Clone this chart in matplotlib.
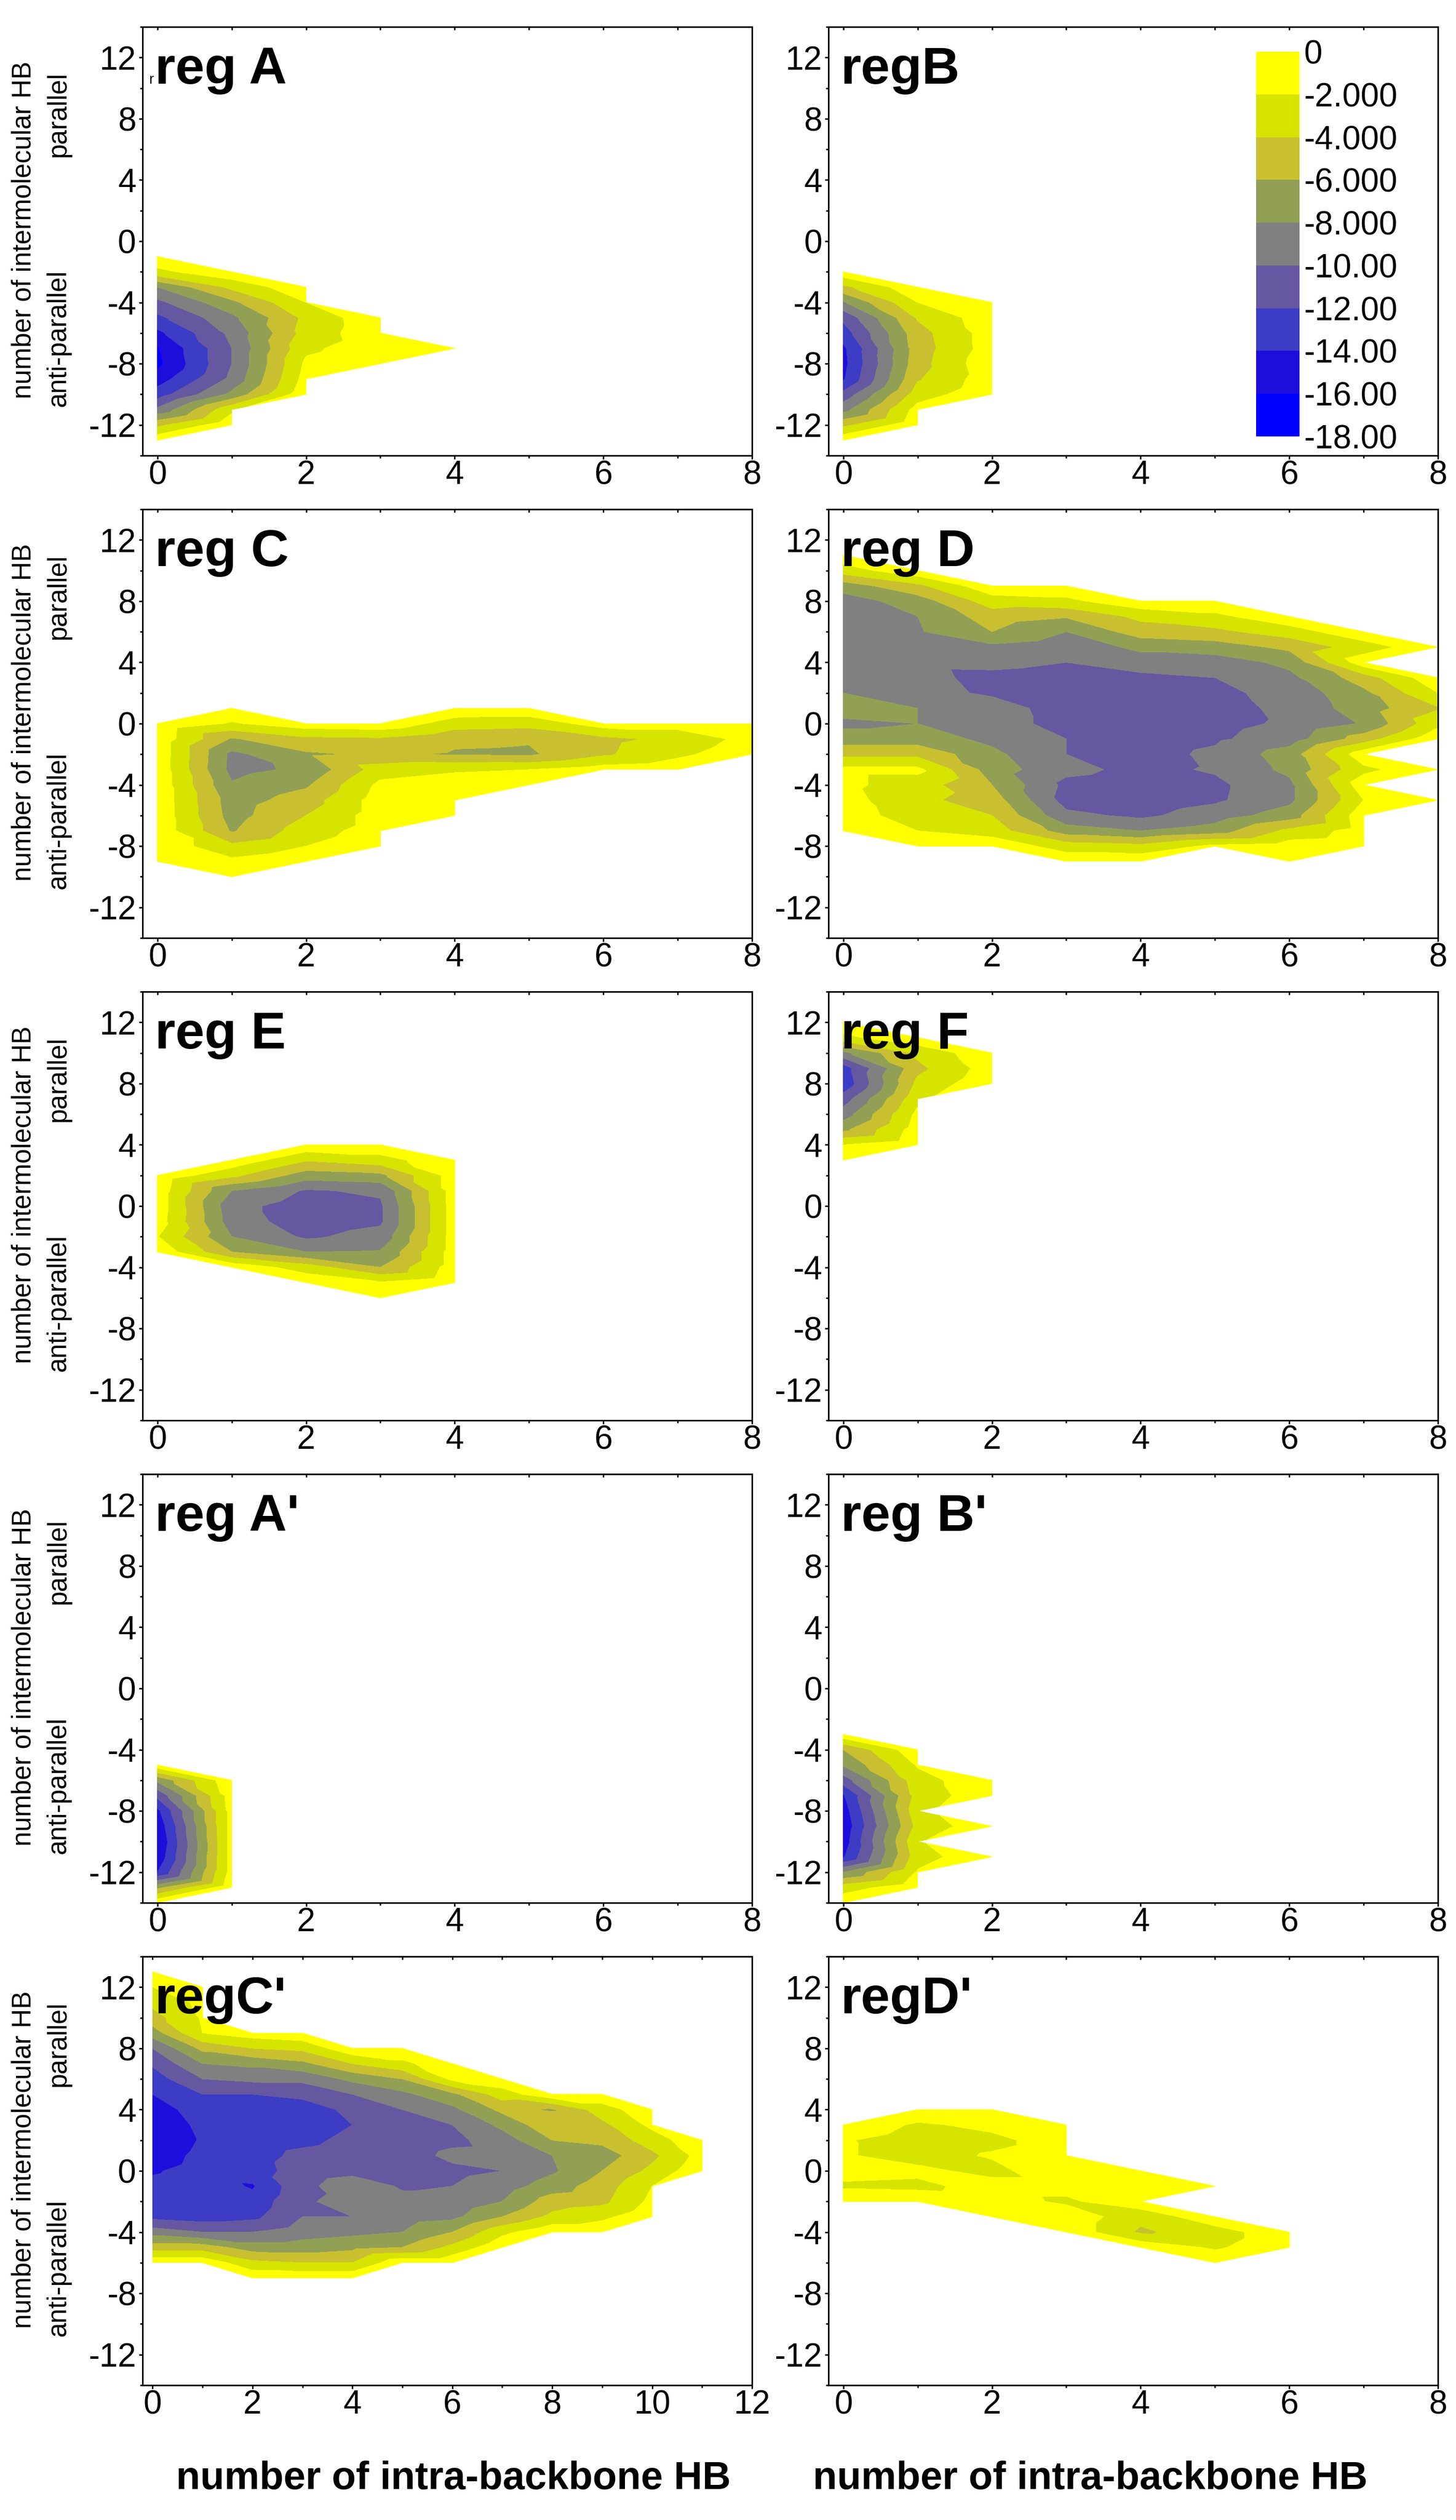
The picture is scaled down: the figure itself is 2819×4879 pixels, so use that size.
import numpy as np
import matplotlib.pyplot as plt
import matplotlib.tri as mtri
from matplotlib.colors import ListedColormap, BoundaryNorm
from matplotlib.cm import ScalarMappable
from matplotlib.ticker import MultipleLocator

plt.rcParams["font.family"] = ["Liberation Sans", "DejaVu Sans"]
plt.rcParams["axes.unicode_minus"] = False

nan = np.nan

# contour levels / colours (free energy)
LEVELS = [-18, -16, -14, -12, -10, -8, -6, -4, -2, 0]
LEVEL_LABELS = ["-18.00", "-16.00", "-14.00", "-12.00", "-10.00",
                "-8.000", "-6.000", "-4.000", "-2.000", "0"]
BAND_COLORS = ["#0000ff", "#1e0edc", "#3c3cc4", "#6658a0", "#808080",
               "#92a055", "#c8c030", "#d6e400", "#ffff00"]

# grids: rows from top (y = *_YTOP) downwards, columns x = 0, 1, 2, ...
REG_A_YTOP = -1
REG_A = [
    [-0.5, nan, nan, nan, nan],
    [-2.5, -0.5, nan, nan, nan],
    [-8.0, -3.5, -0.5, nan, nan],
    [-10.5, -6.5, -2.0, nan, nan],
    [-12.5, -8.5, -3.5, -0.5, nan],
    [-14.5, -9.5, -3.2, -0.6, nan],
    [-16.2, -10.0, -2.4, -0.8, -0.3],
    [-16.5, -10.0, -1.6, -0.5, nan],
    [-15.0, -9.5, -1.2, nan, nan],
    [-13.0, -7.5, -0.5, nan, nan],
    [-9.5, -2.5, nan, nan, nan],
    [-4.5, -0.5, nan, nan, nan],
    [-0.5, nan, nan, nan, nan],
]

REG_B_YTOP = -2
REG_B = [
    [-0.5, nan, nan],
    [-4.5, -0.5, nan],
    [-8.2, -2.0, -0.5],
    [-11.5, -3.8, -0.8],
    [-13.0, -4.8, -1.0],
    [-14.4, -5.0, -1.0],
    [-14.6, -4.8, -0.5],
    [-14.2, -4.2, -0.8],
    [-11.3, -3.0, -0.5],
    [-8.7, -1.2, nan],
    [-4.5, -0.5, nan],
    [-0.5, nan, nan],
]

REG_C_YTOP = 1
REG_C = [
    [nan, -0.5, nan, nan, -0.5, -0.5, nan, nan, nan],
    [-0.5, -2.2, -0.8, -0.5, -3.0, -3.3, -1.0, -1.0, -0.5],
    [-0.6, -6.2, -4.5, -4.3, -5.6, -5.8, -4.5, -3.5, -1.2],
    [-0.6, -8.5, -6.3, -5.7, -6.2, -6.3, -4.3, -2.5, -0.5],
    [-0.6, -8.6, -7.6, -3.0, -2.3, -2.0, -1.0, -0.5, nan],
    [-0.6, -7.8, -6.3, -1.5, -0.8, -0.5, nan, nan, nan],
    [-0.6, -7.0, -5.0, -1.0, -0.7, nan, nan, nan, nan],
    [-0.6, -6.8, -4.0, -1.0, -0.5, nan, nan, nan, nan],
    [-0.6, -6.2, -3.0, -1.0, nan, nan, nan, nan, nan],
    [-0.6, -3.5, -2.0, -0.5, nan, nan, nan, nan, nan],
    [-0.5, -1.5, -0.5, nan, nan, nan, nan, nan, nan],
    [nan, -0.5, nan, nan, nan, nan, nan, nan, nan],
]

REG_D_YTOP = 11
REG_D = [
    [-0.5, nan, nan, nan, nan, nan, nan, nan, nan],
    [-3.0, -0.5, nan, nan, nan, nan, nan, nan, nan],
    [-7.0, -4.5, -0.5, -0.5, nan, nan, nan, nan, nan],
    [-9.0, -7.0, -3.0, -2.5, -0.5, -0.5, nan, nan, nan],
    [-9.5, -8.0, -5.0, -5.8, -3.5, -2.5, -0.5, nan, nan],
    [-9.5, -8.2, -6.0, -8.0, -5.0, -4.5, -3.0, -0.5, nan],
    [-9.5, -9.5, -8.5, -9.3, -7.5, -7.0, -5.5, -3.0, -0.5],
    [-9.5, -9.6, -9.5, -10.0, -9.0, -9.0, -7.5, -0.8, nan],
    [-9.3, -9.5, -10.5, -10.8, -10.5, -10.0, -8.5, -5.0, -0.5],
    [-8.0, -9.3, -10.3, -11.0, -11.0, -10.5, -9.3, -6.5, -2.0],
    [-7.0, -8.0, -9.0, -11.0, -11.2, -10.8, -9.5, -7.0, -4.2],
    [-8.5, -8.0, -9.0, -10.8, -11.2, -10.6, -9.7, -7.8, -2.5],
    [-7.0, -7.0, -8.5, -10.0, -11.0, -10.3, -9.0, -5.0, -0.5],
    [-4.5, -4.5, -7.5, -10.0, -10.8, -9.6, -7.0, -0.8, nan],
    [-1.5, -1.5, -7.0, -9.5, -10.5, -9.8, -7.5, -2.5, -0.5],
    [-1.5, -3.0, -6.0, -10.5, -11.0, -10.4, -8.5, -0.8, nan],
    [-1.2, -3.5, -5.0, -10.8, -11.2, -10.3, -8.5, -2.0, -0.5],
    [-1.0, -3.0, -4.0, -9.5, -10.4, -9.0, -7.0, -0.8, nan],
    [-0.5, -2.0, -3.0, -7.0, -8.0, -7.0, -3.5, -1.0, nan],
    [nan, -0.5, -0.5, -3.0, -3.5, -1.5, -1.0, -0.5, nan],
    [nan, nan, nan, -0.5, -0.5, nan, -0.5, nan, nan],
]

REG_E_YTOP = 4
REG_E = [
    [nan, nan, -0.5, -0.5, nan],
    [nan, -0.5, -3.8, -2.8, -0.5],
    [-0.5, -3.5, -7.0, -6.5, -1.0],
    [-0.8, -8.0, -10.2, -9.7, -1.0],
    [-0.8, -9.3, -11.0, -10.3, -1.0],
    [-1.0, -9.0, -11.0, -10.3, -1.0],
    [-1.9, -8.0, -10.3, -9.3, -1.0],
    [-0.5, -6.0, -8.0, -7.8, -1.0],
    [nan, -0.5, -3.0, -6.0, -1.0],
    [nan, nan, -0.5, -1.8, -0.5],
    [nan, nan, nan, -0.5, nan],
]

REG_F_YTOP = 12
REG_F = [
    [-0.5, nan, nan],
    [-2.5, -0.5, nan],
    [-8.5, -3.5, -0.5],
    [-13.0, -4.5, -1.0],
    [-13.5, -3.5, -0.5],
    [-11.0, -2.5, nan],
    [-9.0, -1.5, nan],
    [-6.5, -1.0, nan],
    [-2.0, -0.5, nan],
    [-0.5, nan, nan],
]

REG_A2_YTOP = -5
REG_A2 = [
    [-0.5, nan],
    [-7.5, -0.5],
    [-11.5, -1.0],
    [-14.5, -1.2],
    [-15.5, -1.2],
    [-16.0, -1.2],
    [-15.5, -1.2],
    [-14.0, -1.2],
    [-6.5, -0.5],
    [-0.5, nan],
]

REG_B2_YTOP = -3
REG_B2 = [
    [-0.5, nan, nan],
    [-6.0, -0.5, nan],
    [-7.8, -1.8, nan],
    [-11.0, -2.8, -0.5],
    [-14.2, -3.2, -0.6],
    [-15.0, -2.6, nan],
    [-15.5, -3.3, -0.6],
    [-15.0, -2.2, nan],
    [-14.2, -2.8, -0.5],
    [-8.0, -1.8, nan],
    [-3.0, -0.5, nan],
    [-0.5, nan, nan],
]

REG_C2_YTOP = 13
REG_C2 = [
    [-0.5, nan, nan, nan, nan, nan, nan, nan, nan, nan, nan, nan],
    [-2.0, -0.5, nan, nan, nan, nan, nan, nan, nan, nan, nan, nan],
    [-3.5, -1.5, nan, nan, nan, nan, nan, nan, nan, nan, nan, nan],
    [-4.8, -1.8, nan, nan, nan, nan, nan, nan, nan, nan, nan, nan],
    [-7.0, -2.0, -1.0, -0.5, nan, nan, nan, nan, nan, nan, nan, nan],
    [-10.0, -5.5, -4.0, -3.5, -0.5, -0.5, nan, nan, nan, nan, nan, nan],
    [-11.7, -8.0, -7.5, -6.5, -4.0, -2.5, -0.5, nan, nan, nan, nan, nan],
    [-13.0, -10.0, -9.5, -9.5, -7.5, -6.0, -1.5, -0.5, nan, nan, nan, nan],
    [-14.0, -12.0, -12.0, -11.5, -10.0, -8.5, -6.5, -3.0, -0.5, -0.5, nan, nan],
    [-15.0, -13.0, -13.0, -13.0, -11.5, -10.0, -8.5, -5.5, -6.2, -3.0, -0.5, nan],
    [-15.5, -13.5, -13.0, -13.0, -12.0, -11.0, -10.0, -7.5, -4.5, -4.5, -1.5, nan],
    [-15.5, -13.8, -13.0, -12.5, -11.5, -11.3, -10.5, -9.0, -6.0, -5.5, -3.0, -0.5],
    [-15.0, -13.5, -12.8, -11.5, -11.0, -11.0, -9.5, -9.3, -8.0, -7.0, -4.5, -1.2],
    [-14.2, -13.3, -13.0, -11.0, -10.5, -10.8, -10.5, -10.0, -8.3, -6.0, -3.5, -0.5],
    [-13.5, -13.0, -14.2, -10.5, -9.0, -10.2, -10.0, -9.0, -7.0, -5.0, -2.0, nan],
    [-13.0, -13.0, -13.3, -10.2, -9.5, -9.5, -9.5, -8.0, -5.0, -4.5, -1.5, nan],
    [-12.5, -13.0, -12.5, -10.0, -10.0, -9.0, -8.5, -6.0, -3.5, -2.5, -0.5, nan],
    [-9.0, -10.0, -10.0, -9.0, -8.5, -8.0, -6.0, -2.5, -0.5, -0.5, nan, nan],
    [-5.0, -5.0, -7.0, -7.0, -6.5, -6.0, -3.5, -0.5, nan, nan, nan, nan],
    [-0.5, -0.5, -3.5, -4.0, -4.0, -0.5, -0.5, nan, nan, nan, nan, nan],
    [nan, nan, -0.5, -0.5, -0.5, nan, nan, nan, nan, nan, nan, nan],
]

REG_D2_YTOP = 4
REG_D2 = [
    [nan, -0.5, -0.5, nan, nan, nan, nan],
    [-0.5, -2.3, -1.5, -0.5, nan, nan, nan],
    [-1.8, -3.0, -2.5, -1.0, nan, nan, nan],
    [-1.8, -2.8, -1.8, -1.0, nan, nan, nan],
    [-1.3, -1.5, -2.6, -0.5, -0.5, nan, nan],
    [-2.3, -2.5, -1.2, -1.2, -1.0, -0.5, nan],
    [-0.5, -0.5, -1.0, -2.4, -0.5, nan, nan],
    [nan, nan, -0.5, -0.5, -3.5, -0.5, nan],
    [nan, nan, nan, -0.5, -4.3, -3.0, -0.5],
    [nan, nan, nan, nan, -0.5, -2.3, -0.5],
    [nan, nan, nan, nan, nan, -0.5, nan],
]

PANELS = [
    ("reg A", REG_A, REG_A_YTOP, 8),
    ("regB", REG_B, REG_B_YTOP, 8),
    ("reg C", REG_C, REG_C_YTOP, 8),
    ("reg D", REG_D, REG_D_YTOP, 8),
    ("reg E", REG_E, REG_E_YTOP, 8),
    ("reg F", REG_F, REG_F_YTOP, 8),
    ("reg A'", REG_A2, REG_A2_YTOP, 8),
    ("reg B'", REG_B2, REG_B2_YTOP, 8),
    ("regC'", REG_C2, REG_C2_YTOP, 12),
    ("regD'", REG_D2, REG_D2_YTOP, 8),
]


def grid_triangulation(rows, y_top):
    z = np.array(rows, dtype=float)
    ny, nx = z.shape
    idx = -np.ones(z.shape, dtype=int)
    xs, ys, zs = [], [], []
    for r in range(ny):
        for c in range(nx):
            if np.isfinite(z[r, c]):
                idx[r, c] = len(xs)
                xs.append(c)
                ys.append(y_top - r)
                zs.append(z[r, c])
    tris = []
    for r in range(ny - 1):
        for c in range(nx - 1):
            tl, tr, bl, br = idx[r, c], idx[r, c + 1], idx[r + 1, c], idx[r + 1, c + 1]
            ok = [k for k in (tl, tr, br, bl) if k >= 0]
            if len(ok) == 4:
                tris.append([tl, tr, br])
                tris.append([tl, br, bl])
            elif len(ok) == 3:
                tris.append(ok)
    return mtri.Triangulation(xs, ys, tris), np.array(zs)


W, H = 2819, 4879
COL_LEFT = [276, 1604]
ROW_TOP = [52, 986, 1920, 2854, 3788]
AX_W, AX_H = 1180, 830

cmap = ListedColormap(BAND_COLORS)
norm = BoundaryNorm(LEVELS, cmap.N)

fig = plt.figure(figsize=(W / 100, H / 100), dpi=100)

for i, (title, grid, ytop, xmax) in enumerate(PANELS):
    row, col = divmod(i, 2)
    ax = fig.add_axes([COL_LEFT[col] / W, 1 - (ROW_TOP[row] + AX_H) / H, AX_W / W, AX_H / H])
    tri, z = grid_triangulation(grid, ytop)
    ax.tricontourf(tri, z, levels=LEVELS, cmap=cmap, norm=norm, antialiased=False)

    ax.set_xlim(-0.2, xmax)
    ax.set_ylim(-14, 14)
    ax.set_xticks(np.arange(0, xmax + 1, 2))
    ax.xaxis.set_minor_locator(MultipleLocator(1))
    ax.set_yticks(np.arange(-12, 13, 4))
    ax.yaxis.set_minor_locator(MultipleLocator(2))
    ax.tick_params(which="both", direction="out", width=2, labelsize=46,
                   top=False, right=False)
    ax.tick_params(which="major", length=5)
    ax.tick_params(which="minor", length=3.5)
    ax.tick_params(axis="x", pad=1)
    ax.tick_params(axis="y", pad=4)
    for sp in ax.spines.values():
        sp.set_linewidth(2.2)

    top = ax.secondary_xaxis("top")
    top.set_xticks(np.arange(0, xmax + 1, 1))
    top.tick_params(direction="in", length=4, width=2, labeltop=False, labelbottom=False)
    top.spines["top"].set_linewidth(2.2)

    ax.text(0.02, 0.867, title, transform=ax.transAxes, fontsize=73,
            fontweight="bold", ha="left", va="baseline")
    if i == 0:
        ax.text(0.01, 0.867, "r", transform=ax.transAxes, fontsize=20,
                ha="left", va="baseline")

# y-axis captions, one set per row
for rt in ROW_TOP:
    fig.text(46 / W, 1 - (rt + 393) / H, "number of intermolecular HB",
             rotation=90, fontsize=37, ha="center", va="center")
    fig.text(113 / W, 1 - (rt + 169) / H, "parallel",
             rotation=90, fontsize=37, ha="center", va="center")
    fig.text(113 / W, 1 - (rt + 602) / H, "anti-parallel",
             rotation=90, fontsize=37, ha="center", va="center")

fig.text(878 / W, 1 - 4800 / H, "number of intra-backbone HB",
         fontsize=55, fontweight="bold", ha="center", va="center")
fig.text(2111 / W, 1 - 4800 / H, "number of intra-backbone HB",
         fontsize=55, fontweight="bold", ha="center", va="center")

# colour scale inside panel regB
cax = fig.add_axes([2432 / W, 1 - 845 / H, 84 / W, 745 / H])
sm = ScalarMappable(norm=norm, cmap=cmap)
cb = fig.colorbar(sm, cax=cax, boundaries=LEVELS, ticks=LEVELS)
cb.set_ticklabels(LEVEL_LABELS)
cb.outline.set_visible(False)
cax.tick_params(length=0, labelsize=46, pad=6)

fig.savefig("out.png", dpi=100)
